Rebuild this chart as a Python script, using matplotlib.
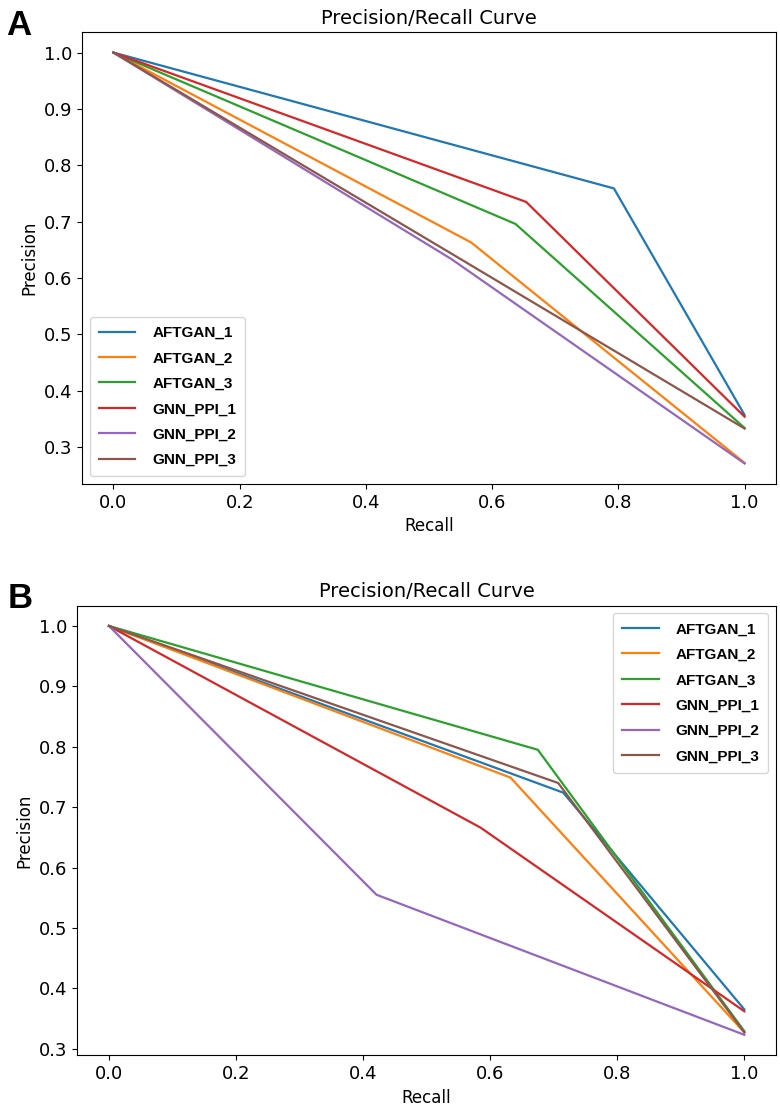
import numpy as np
import matplotlib
matplotlib.use('Agg')
import matplotlib.pyplot as plt

font_size = 12
plt.rcParams.update({
    'font.size': font_size,
    'axes.titlesize': font_size + 2,
    'axes.labelsize': font_size,
    'xtick.labelsize': font_size + 1,
    'ytick.labelsize': font_size + 1,
})

labels = ['AFTGAN_1', 'AFTGAN_2', 'AFTGAN_3', 'GNN_PPI_1', 'GNN_PPI_2', 'GNN_PPI_3']
colors = ['#1f77b4', '#ff7f0e', '#2ca02c', '#d62728', '#9467bd', '#8c564b']

# panel A: recall / precision points per model
recall_a = [
    [0.0, 0.793, 1.0],
    [0.0, 0.567, 1.0],
    [0.0, 0.637, 1.0],
    [0.0, 0.654, 1.0],
    [0.0, 0.535, 1.0],
    [0.0, 0.530, 1.0],
]
precision_a = [
    [1.0, 0.759, 0.357],
    [1.0, 0.663, 0.272],
    [1.0, 0.696, 0.334],
    [1.0, 0.735, 0.354],
    [1.0, 0.634, 0.271],
    [1.0, 0.647, 0.333],
]

# panel B
recall_b = [
    [0.0, 0.715, 1.0],
    [0.0, 0.632, 1.0],
    [0.0, 0.675, 1.0],
    [0.0, 0.585, 1.0],
    [0.0, 0.421, 1.0],
    [0.0, 0.707, 1.0],
]
precision_b = [
    [1.0, 0.724, 0.365],
    [1.0, 0.749, 0.327],
    [1.0, 0.795, 0.329],
    [1.0, 0.666, 0.362],
    [1.0, 0.555, 0.323],
    [1.0, 0.740, 0.327],
]

fig = plt.figure(figsize=(7.8, 11.05), dpi=100)
ax_a = fig.add_axes([0.105, 0.562, 0.890, 0.409])
ax_b = fig.add_axes([0.099, 0.045, 0.896, 0.407])

legend_font = {'family': ['Liberation Sans', 'DejaVu Sans'], 'weight': 'bold', 'size': 11}

for ax, rec, prec, loc in [(ax_a, recall_a, precision_a, 'lower left'),
                           (ax_b, recall_b, precision_b, 'upper right')]:
    for r, p, lab, c in zip(rec, prec, labels, colors):
        ax.plot(r, p, color=c, label=lab, linewidth=1.6)
    ax.set_title('Precision/Recall Curve')
    ax.set_xlabel('Recall')
    ax.set_ylabel('Precision')
    ax.set_xticks([0.0, 0.2, 0.4, 0.6, 0.8, 1.0])
    ax.legend(loc=loc, prop=legend_font, handlelength=2.4, handletextpad=1.1,
              labelspacing=0.75, borderpad=0.6)

fig.text(0.008, 0.992, 'A', fontsize=25, fontweight='bold', va='top',
         family=['Liberation Sans', 'DejaVu Sans'])
fig.text(0.010, 0.473, 'B', fontsize=25, fontweight='bold', va='top',
         family=['Liberation Sans', 'DejaVu Sans'])

fig.savefig('out.png', dpi=100)
